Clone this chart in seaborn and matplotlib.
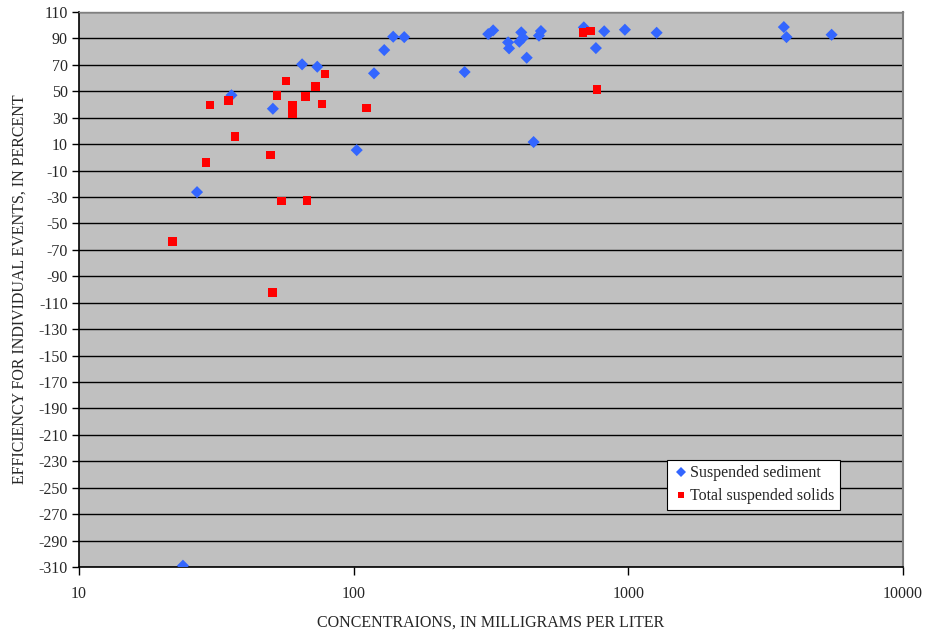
import matplotlib
matplotlib.use("Agg")
import matplotlib.pyplot as plt
from matplotlib.ticker import LogLocator, NullFormatter, FixedLocator, FixedFormatter
import numpy as np
import pandas as pd
import seaborn as sns

# Suspended sediment (SSC) events: concentration (mg/L) and removal efficiency (%)
ssc_conc = [23.9, 26.9, 35.9, 50.8, 64.9, 73.7, 102.6, 118.6, 129.2, 139.3,
            152.8, 253.5, 309, 322, 365, 368, 401, 407.6, 414, 426.6,
            452, 472.8, 480.6, 688.6, 762, 817, 971.8, 1268, 3683, 3767, 5497]
ssc_eff = [-309, -26.3, 47, 36.8, 70.4, 68.6, 5.5, 63.6, 81.2, 91.3,
           91, 64.6, 93.3, 96.1, 87, 82.5, 87.5, 94.6, 90.5, 75.4,
           11.6, 92.1, 95.6, 98.4, 82.7, 95.4, 96.6, 94.3, 98.6, 91, 92.8]

# Total suspended solids (TSS) events
tss_conc = [21.9, 29, 30, 34.96, 37, 49.9, 50.7, 52.6, 54.7, 56.7,
            59.8, 59.8, 66.7, 67.6, 72.7, 76.7, 78.6, 111.4, 685, 729, 769]
tss_eff = [-63.6, -3.8, 39.6, 42.9, 15.9, 1.7, -102.2, 46.9, -33.1, 57.8,
           39.6, 33.3, 46.2, -32.5, 53.5, 40.4, 63.1, 37.3, 94.6, 95.6, 51.2]

series_names = ["Suspended sediment", "Total suspended solids"]
y_ticks = list(range(-310, 111, 20))
x_ticks = [10, 100, 1000, 10000]
x_tick_labels = ["10", "100", "1000", "10000"]

df = pd.DataFrame({
    "conc": ssc_conc + tss_conc,
    "eff": ssc_eff + tss_eff,
    "series": [series_names[0]] * len(ssc_conc) + [series_names[1]] * len(tss_conc),
})

sns.set_style("white")
plt.rcParams["font.family"] = ["Liberation Serif", "DejaVu Serif"]
plt.rcParams["axes.unicode_minus"] = False

fig = plt.figure(figsize=(9.25, 6.32), dpi=100)
ax = fig.add_axes([0.0854, 0.1028, 0.8908, 0.8782])
ax.set_facecolor("#C0C0C0")

ax.set_xscale("log")
for y in y_ticks:
    ax.axhline(y, color="black", linewidth=1.0, zorder=0.5)

sns.scatterplot(
    data=df, x="conc", y="eff", hue="series", style="series",
    hue_order=series_names, style_order=series_names,
    palette={series_names[0]: "#3366FF", series_names[1]: "#FF0000"},
    markers={series_names[0]: "D", series_names[1]: "s"},
    s=38, linewidth=0, edgecolor="none", ax=ax, zorder=3,
)

ax.set_xlim(10, 10000)
ax.set_ylim(-310, 110)

ax.xaxis.set_major_locator(FixedLocator(x_ticks))
ax.xaxis.set_major_formatter(FixedFormatter(x_tick_labels))
ax.xaxis.set_minor_locator(LogLocator(base=10, subs=np.arange(2, 10)))
ax.xaxis.set_minor_formatter(NullFormatter())
ax.set_yticks(y_ticks)
ax.set_yticklabels([str(v) for v in y_ticks])

ax.tick_params(axis="x", which="major", direction="out", length=6, width=1,
               color="black", labelsize=11.5, pad=8)
ax.tick_params(axis="x", which="minor", direction="inout", length=8, width=1,
               color="black")
ax.tick_params(axis="y", which="major", direction="out", length=5, width=1,
               color="black", labelsize=11.5, pad=3)
ax.tick_params(axis="x", bottom=True)
ax.tick_params(axis="y", left=True)

for side in ["left", "bottom"]:
    ax.spines[side].set_color("black")
    ax.spines[side].set_linewidth(1.2)
ax.spines["top"].set_color("#808080")
ax.spines["right"].set_color("#808080")
ax.spines["top"].set_linewidth(1.0)
ax.spines["right"].set_linewidth(1.5)

ax.set_xlabel("CONCENTRAIONS, IN MILLIGRAMS PER LITER", fontsize=11.5, labelpad=9)
ax.set_ylabel("EFFICIENCY FOR INDIVIDUAL EVENTS, IN PERCENT", fontsize=11.5, labelpad=8)

leg = ax.legend(
    loc="lower left", bbox_to_anchor=(0.7136, 0.1027), frameon=True,
    fancybox=False, edgecolor="black", facecolor="white", framealpha=1,
    fontsize=11.5, markerscale=0.8, handletextpad=0.1, handlelength=1.0,
    borderpad=0.35, labelspacing=0.45, borderaxespad=0,
)
leg.get_frame().set_linewidth(0.8)
leg.set_title(None)

fig.savefig("out.png", dpi=100, facecolor="white")
